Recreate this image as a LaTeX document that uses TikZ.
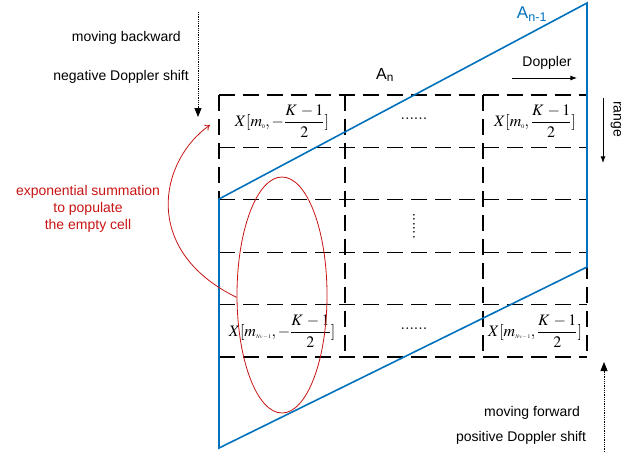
\documentclass[tikz,border=0pt]{standalone}
\usepackage{amsmath}
\usepackage{mathptmx}
\usepackage[no-math]{fontspec}
\setmainfont{Liberation Sans}
\usetikzlibrary{arrows.meta,calc,positioning,shapes.geometric}
\definecolor{dpblue}{RGB}{0,114,189}
\definecolor{dpred}{RGB}{200,20,20}
\newcommand{\tsub}[1]{\mbox{\fontsize{5.5}{5.5}\selectfont$#1$}}

\begin{document}
\begin{tikzpicture}[x=1pt,y=-1pt,>=Latex,font=\fontsize{14}{17}\selectfont,every node/.style={align=center,inner sep=0pt},
    grid/.style={line width=1.3pt,dash pattern=on 16pt off 8pt},
    cell/.style={minimum width=#1,minimum height=52pt,font=\fontsize{16}{18}\selectfont},
    dotarrow/.style={densely dotted,line width=0.8pt,-{Triangle[width=7pt,length=9pt]}}]
    \useasboundingbox (0,0) rectangle (636,453);
    \foreach \r in {0,...,5} \draw[grid] (219,95+52.4*\r) -- (587,95+52.4*\r);
    \foreach \c in {219,345,483,587} \draw[grid] (\c,95) -- (\c,357);
    \node[cell=126pt] (x11) at (282,121) {$X[m_{\tsub{0}},-\dfrac{K\,-1}{2}]$};
    \node[cell=138pt] (x12) at (414,119) {$......$};
    \node[cell=104pt] (x13) at (535,121) {$X[m_{\tsub{0}},\dfrac{K\,-1}{2}]$};
    \node[rotate=90,font=\fontsize{16}{18}\selectfont] (x32) at (414,226) {$......$};
    \node[cell=126pt] (x61) at (282,331) {$X[m_{\tsub{Nv-1}},-\dfrac{K\,-1}{2}]$};
    \node[cell=138pt] (x62) at (414,329) {$......$};
    \node[cell=104pt] (x63) at (535,331) {$X[m_{\tsub{Nv-1}},\dfrac{K\,-1}{2}]$};
    \coordinate (tr) at (587,3);
    \coordinate (tl) at (219,199);
    \coordinate (bl) at (219,448);
    \coordinate (br) at (587,267);
    \draw[dpblue,line width=1.6pt] (tr)--(tl)--(bl)--(br)--cycle;
    \node[dpblue,font=\fontsize{17}{17}\selectfont] (an1) at (532,14) {A\textsubscript{n-1}};
    \node[font=\fontsize{16}{16}\selectfont] (an) at (385,75) {A\textsubscript{n}};
    \node (dop) at (547,63) {Doppler};
    \coordinate (dopa) at (512,78);
    \coordinate (dopb) at (577,78);
    \draw[->,line width=0.8pt] (dopa)--(dopb);
    \node[rotate=-90] (rng) at (616,119) {range};
    \coordinate (rnga) at (603,98);
    \coordinate (rngb) at (603,163);
    \draw[->,line width=0.8pt] (rnga)--(rngb);
    \coordinate (bk0) at (198,12);
    \coordinate (bk1) at (198,117);
    \draw[dotarrow] (bk0)--(bk1);
    \node[anchor=east] (mvb) at (181,38) {moving backward};
    \node[anchor=east] (neg) at (189,77) {negative Doppler shift};
    \coordinate (fw0) at (604,452);
    \coordinate (fw1) at (604,362);
    \draw[dotarrow] (fw0)--(fw1);
    \node (mvf) at (532,413) {moving forward};
    \node (pos) at (521,438) {positive Doppler shift};
    \node[ellipse,draw=dpred,line width=0.8pt,minimum width=90pt,minimum height=236pt] (sel) at (282,295) {};
    \node[dpred] (note) at (88,209) {exponential summation\\to populate\\the empty cell};
    \coordinate (tip) at (210,125);
    \draw[dpred,line width=0.8pt,-{To[length=5pt,width=7pt]}] (sel.183) .. controls (140,250) and (160,160) .. (tip);
  \end{tikzpicture}
\end{document}
